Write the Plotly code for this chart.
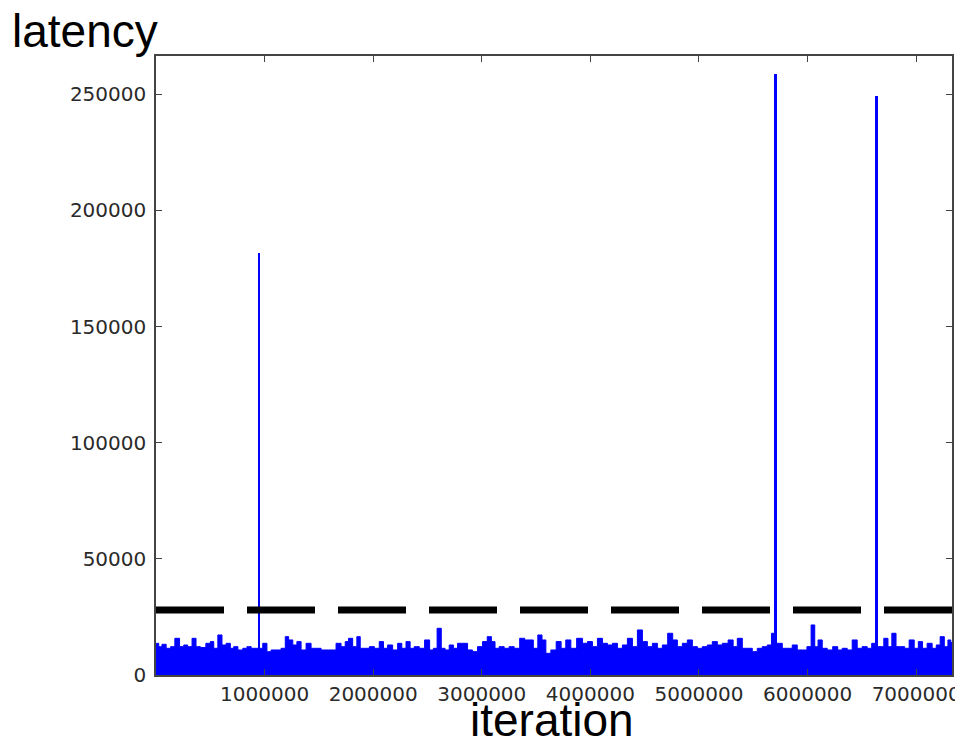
import plotly.graph_objects as go

# ---- data ----
# upper envelope of the dense latency band (iteration, latency)
band_iteration = [
    0, 10000, 40000, 70000, 117000, 153000, 194000, 240000, 271000, 311000,
    353000, 384000, 433000, 485000, 516000, 547000, 592000, 623000, 669000, 700000,
    731000, 777000, 822000, 853000, 899000, 960000, 1006000, 1037000, 1083000, 1129000,
    1175000, 1206000, 1237000, 1282000, 1313000, 1359000, 1405000, 1451000, 1497000, 1543000,
    1589000, 1635000, 1681000, 1727000, 1758000, 1788000, 1834000, 1865000, 1896000, 1942000,
    1988000, 2033000, 2079000, 2110000, 2156000, 2202000, 2248000, 2279000, 2325000, 2355000,
    2401000, 2447000, 2500000, 2539000, 2570000, 2607000, 2647000, 2677000, 2723000, 2754000,
    2800000, 2846000, 2892000, 2938000, 2984000, 3030000, 3070000, 3107000, 3137000, 3183000,
    3229000, 3275000, 3321000, 3377000, 3413000, 3459000, 3490000, 3542000, 3567000, 3613000,
    3659000, 3711000, 3750000, 3797000, 3843000, 3904000, 3950000, 3996000, 4042000, 4088000,
    4134000, 4180000, 4226000, 4272000, 4318000, 4364000, 4410000, 4456000, 4502000, 4548000,
    4594000, 4640000, 4686000, 4738000, 4778000, 4824000, 4870000, 4916000, 4962000, 5008000,
    5054000, 5100000, 5146000, 5192000, 5238000, 5299000, 5330000, 5376000, 5422000, 5468000,
    5514000, 5560000, 5606000, 5652000, 5683000, 5744000, 5790000, 5836000, 5882000, 5928000,
    5974000, 6014000, 6051000, 6081000, 6112000, 6158000, 6204000, 6259000, 6296000, 6342000,
    6388000, 6434000, 6480000, 6526000, 6572000, 6609000, 6679000, 6725000, 6756000, 6796000,
    6833000, 6879000, 6909000, 6962000, 7002000, 7038000, 7078000, 7124000, 7170000, 7201000,
    7241000, 7277000, 7308000, 7330000,
]
band_latency = [
    13600, 13650, 12210, 13220, 11490, 12210, 15800, 12210, 12930, 12210,
    15800, 12210, 11850, 13650, 14370, 11490, 17240, 12930, 13650, 11490,
    12210, 10780, 11490, 12210, 11490, 11490, 13650, 10060, 10780, 10780,
    11490, 16520, 15090, 12930, 14370, 10780, 13650, 11490, 11490, 10780,
    10780, 10780, 13650, 12210, 14370, 15800, 12210, 16520, 11490, 11490,
    12210, 11490, 14370, 11490, 12930, 10780, 13650, 11490, 14370, 11490,
    12210, 11490, 15090, 10780, 11490, 20110, 11490, 10780, 12930, 11490,
    13650, 13650, 10780, 10060, 12210, 14370, 16520, 14370, 11490, 12210,
    11490, 12210, 11490, 15800, 15090, 15090, 11490, 17240, 15090, 9340,
    10780, 14370, 11490, 15090, 11490, 15800, 13650, 14370, 12210, 15800,
    13650, 12930, 13650, 11490, 12930, 15800, 12210, 19400, 14370, 12210,
    13650, 11490, 12930, 17960, 15090, 12210, 13650, 15090, 12210, 11490,
    12210, 12930, 14370, 12930, 13650, 15090, 12210, 15800, 11490, 11490,
    10060, 11490, 12210, 12930, 17960, 13650, 11490, 11490, 12930, 10780,
    10780, 12210, 21550, 12210, 15090, 11490, 10780, 12210, 10780, 11490,
    10780, 15090, 11490, 12210, 11490, 13650, 12210, 15800, 12210, 17960,
    12210, 12210, 11490, 15090, 11490, 14370, 11490, 13650, 11490, 12930,
    16520, 12210, 15090, 14000,
]

# isolated latency spikes
spike_iteration = [951000, 5707000, 6637000]
spike_latency = [181900, 258600, 249300]

# dashed reference level
threshold_iteration = [0, 7330000]
threshold_latency = [28000, 28000]

x_ticks = [1000000, 2000000, 3000000, 4000000, 5000000, 6000000, 7000000]
y_ticks = [0, 50000, 100000, 150000, 200000, 250000]

x_range = [0, 7330000]
y_range = [0, 266500]

BLUE = "#0000FF"
AXIS = "#444444"
TICKFONT = dict(family="DejaVu Sans", size=20, color="#2a2a2a")

fig = go.Figure()

fig.add_trace(go.Bar(
    x=spike_iteration, y=spike_latency, width=15000,
    marker=dict(color=BLUE, line=dict(width=0)), showlegend=False,
))

fig.add_trace(go.Scatter(
    x=band_iteration, y=band_latency, mode="lines",
    line=dict(color=BLUE, width=1, shape="hvh"), fill="tozeroy", fillcolor=BLUE,
    showlegend=False,
))

fig.add_trace(go.Scatter(
    x=threshold_iteration, y=threshold_latency, mode="lines",
    line=dict(color="black", width=7, dash="68px,23px"),
    showlegend=False,
))

axis_common = dict(
    showline=True, linecolor=AXIS, linewidth=1.5, mirror="allticks",
    ticks="inside", ticklen=6, tickwidth=1, tickcolor=AXIS,
    showgrid=False, zeroline=False, tickfont=TICKFONT, tickformat="d",
)

fig.update_xaxes(range=x_range, tickvals=x_ticks, ticklabelstandoff=0, **axis_common)
fig.update_yaxes(range=y_range, tickvals=y_ticks, ticklabelstandoff=4, **axis_common)

fig.add_annotation(
    text="latency", xref="paper", yref="paper", x=-0.1835, y=1.040,
    xanchor="left", yanchor="middle", showarrow=False,
    font=dict(family="Liberation Sans", size=46, color="black"),
)
fig.add_annotation(
    text="iteration", xref="paper", yref="paper", x=0.498, y=-0.0735,
    xanchor="center", yanchor="middle", showarrow=False,
    font=dict(family="Liberation Sans", size=46, color="black"),
)

# page body has an 8px margin, so the figure is sized to fit the window
fig.update_layout(
    width=955, height=734,
    margin=dict(l=148, r=11, t=48, b=67, autoexpand=False),
    plot_bgcolor="white", paper_bgcolor="white",
    bargap=0,
)

fig.write_html("out.html")
